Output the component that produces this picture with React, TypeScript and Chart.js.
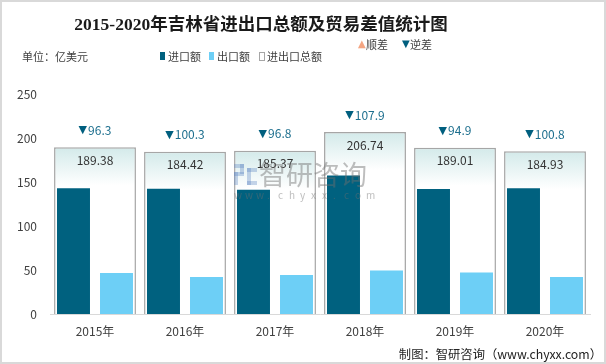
import React, { useEffect, useRef } from 'react';
import { Chart, registerables } from 'chart.js';

Chart.register(...registerables);

const categories = ['2015年', '2016年', '2017年', '2018年', '2019年', '2020年'];
const importValues = [142.84, 142.36, 141.09, 157.32, 141.96, 142.87];
const exportValues = [46.54, 42.06, 44.28, 49.42, 47.06, 42.07];
const totalValues = [189.38, 184.42, 185.37, 206.74, 189.01, 184.93];
const balanceValues = [-96.3, -100.3, -96.8, -107.9, -94.9, -100.8];
const yMin = 0;
const yMax = 250;
const yStep = 50;

const titleText = '2015-2020年吉林省进出口总额及贸易差值统计图';
const unitText = '单位：亿美元';
const legendLabels = ['进口额', '出口额', '进出口总额'];
const balanceLegend = ['顺差', '逆差'];
const sourceText = '制图：智研咨询（www.chyxx.com）';

const FONT = "'Noto Sans CJK SC', 'Noto Sans', sans-serif";
const TRI_FONT = "'DejaVu Sans', sans-serif";
const IMPORT_COLOR = '#00617f';
const EXPORT_COLOR = '#6dcff6';
const BOX_BORDER = '#a6a6a6';
const TEXT_COLOR = '#404040';
const DEFICIT_COLOR = '#005f7f';
const SURPLUS_COLOR = '#f4a582';

export default function App() {
  const ref = useRef<HTMLCanvasElement>(null);

  useEffect(() => {
    const canvas = ref.current;
    if (!canvas) return;

    const overlay = {
      id: 'overlay',
      afterDatasetsDraw(chart: any) {
        const ctx = chart.ctx as CanvasRenderingContext2D;
        const meta = chart.getDatasetMeta(2);
        ctx.save();
        meta.data.forEach((bar: any, i: number) => {
          const { x, y } = bar.getProps(['x', 'y'], true);
          ctx.font = `12px ${FONT}`;
          ctx.textAlign = 'center';
          ctx.textBaseline = 'middle';
          ctx.fillStyle = '#333333';
          ctx.fillText(totalValues[i].toFixed(2), x, y + 13);
          const v = balanceValues[i];
          const tri = v < 0 ? '▼' : '▲';
          const num = Math.abs(v).toFixed(1);
          ctx.font = `11px ${TRI_FONT}`;
          const w1 = ctx.measureText(tri).width;
          ctx.font = `12px ${FONT}`;
          const w2 = ctx.measureText(num).width;
          const start = x - (w1 + w2 + 1) / 2;
          ctx.textAlign = 'left';
          ctx.font = `11px ${TRI_FONT}`;
          ctx.fillStyle = v < 0 ? DEFICIT_COLOR : SURPLUS_COLOR;
          ctx.fillText(tri, start, y - 17);
          ctx.font = `12px ${FONT}`;
          ctx.fillStyle = '#1d6f8e';
          ctx.fillText(num, start + w1 + 1, y - 17);
        });

        // watermark
        ctx.fillStyle = 'rgba(95,135,195,0.35)';
        ctx.fillRect(234, 164, 10, 4);
        ctx.fillRect(240, 164, 4, 10);
        ctx.fillRect(234, 172, 10, 4);
        ctx.fillRect(234, 172, 4, 13);
        ctx.fillRect(247, 168, 10, 4);
        ctx.fillRect(247, 168, 4, 17);
        ctx.fillRect(247, 181, 10, 4);
        ctx.fillStyle = 'rgba(110,110,110,0.45)';
        ctx.font = `27px ${FONT}`;
        ctx.textAlign = 'left';
        ctx.textBaseline = 'middle';
        ctx.fillText('智研咨询', 259, 175);
        ctx.font = `10px ${FONT}`;
        const site = 'www.chyxx.com'.split('');
        site.forEach((ch, k) => {
          ctx.fillText(ch, 234 + k * 11, 195);
        });
        ctx.restore();
      },
      afterDraw(chart: any) {
        const ctx = chart.ctx as CanvasRenderingContext2D;
        ctx.save();
        ctx.fillStyle = '#1a1a1a';
        ctx.font = `bold 17.5px 'Liberation Serif', 'Noto Sans CJK SC', serif`;
        ctx.textAlign = 'center';
        ctx.textBaseline = 'middle';
        ctx.fillText(titleText, 261, 25);

        ctx.font = `11px ${FONT}`;
        ctx.textAlign = 'left';
        ctx.fillStyle = TEXT_COLOR;
        ctx.fillText(unitText, 22, 57);

        const lx = [160, 209, 259];
        const colors = [IMPORT_COLOR, EXPORT_COLOR, '#ffffff'];
        legendLabels.forEach((t, k) => {
          ctx.fillStyle = colors[k];
          ctx.fillRect(lx[k], 52, 5, 8);
          if (k === 2) {
            ctx.strokeStyle = BOX_BORDER;
            ctx.lineWidth = 1;
            ctx.strokeRect(lx[k] + 0.5, 52.5, 5, 8);
          }
          ctx.fillStyle = TEXT_COLOR;
          ctx.font = `11px ${FONT}`;
          ctx.fillText(t, lx[k] + 8, 56.5);
        });

        ctx.font = `10px ${TRI_FONT}`;
        ctx.fillStyle = SURPLUS_COLOR;
        ctx.fillText('▲', 358, 44);
        ctx.fillStyle = DEFICIT_COLOR;
        ctx.fillText('▼', 402, 44);
        ctx.font = `11px ${FONT}`;
        ctx.fillStyle = TEXT_COLOR;
        ctx.fillText(balanceLegend[0], 366, 44.5);
        ctx.fillText(balanceLegend[1], 410, 44.5);

        ctx.font = `12.3px ${FONT}`;
        ctx.textAlign = 'right';
        ctx.fillStyle = '#222222';
        ctx.fillText(sourceText, 602, 354);

        ctx.strokeStyle = '#d9d9d9';
        ctx.lineWidth = 2;
        ctx.strokeRect(1, 1, 604, 362);
        ctx.restore();
      },
    };

    const chart = new Chart(canvas, {
      type: 'bar',
      data: {
        labels: categories,
        datasets: [
          {
            label: legendLabels[0],
            data: importValues,
            backgroundColor: IMPORT_COLOR,
            barPercentage: 0.767,
            categoryPercentage: 0.956,
            order: 1,
          },
          {
            label: legendLabels[1],
            data: exportValues,
            backgroundColor: EXPORT_COLOR,
            barPercentage: 0.767,
            categoryPercentage: 0.956,
            order: 1,
          },
          {
            label: legendLabels[2],
            data: totalValues,
            grouped: false,
            barPercentage: 0.91,
            categoryPercentage: 1,
            borderColor: BOX_BORDER,
            borderWidth: 1.5,
            order: 2,
            backgroundColor: (c: any) => {
              const ch = c.chart;
              if (!ch.chartArea || c.dataIndex === undefined || !ch.scales.y) return '#e6f3f3';
              const y = ch.scales.y.getPixelForValue(totalValues[c.dataIndex]);
              const g = ch.ctx.createLinearGradient(0, y, 0, y + 38);
              g.addColorStop(0, '#d3eaea');
              g.addColorStop(1, '#ffffff');
              return g;
            },
          },
        ],
      },
      options: {
        responsive: false,
        animation: false,
        devicePixelRatio: 1,
        layout: { padding: { left: 10, right: 16, top: 94, bottom: 0 } },
        plugins: {
          legend: { display: false },
          title: { display: false },
          tooltip: { enabled: false },
        },
        scales: {
          x: {
            type: 'category',
            offset: true,
            grid: { display: false, drawTicks: false, offset: true },
            border: { display: true, color: '#d9d9d9', width: 1 },
            ticks: { color: TEXT_COLOR, font: { family: FONT, size: 12 }, padding: 10 },
            afterFit: (s: any) => {
              s.height = 50;
            },
          },
          y: {
            min: yMin,
            max: yMax,
            grid: { display: false, drawTicks: false },
            border: { display: false },
            ticks: {
              stepSize: yStep,
              color: TEXT_COLOR,
              font: { family: FONT, size: 12 },
              padding: 13,
            },
            afterFit: (s: any) => {
              s.width = 40;
            },
          },
        },
      },
      plugins: [overlay],
    } as any);

    return () => chart.destroy();
  }, []);

  return (
    <div style={{ position: 'fixed', left: 0, top: 0, width: 606, height: 364, background: '#ffffff' }}>
      <canvas ref={ref} width={606} height={364} style={{ display: 'block', width: 606, height: 364 }} />
    </div>
  );
}
